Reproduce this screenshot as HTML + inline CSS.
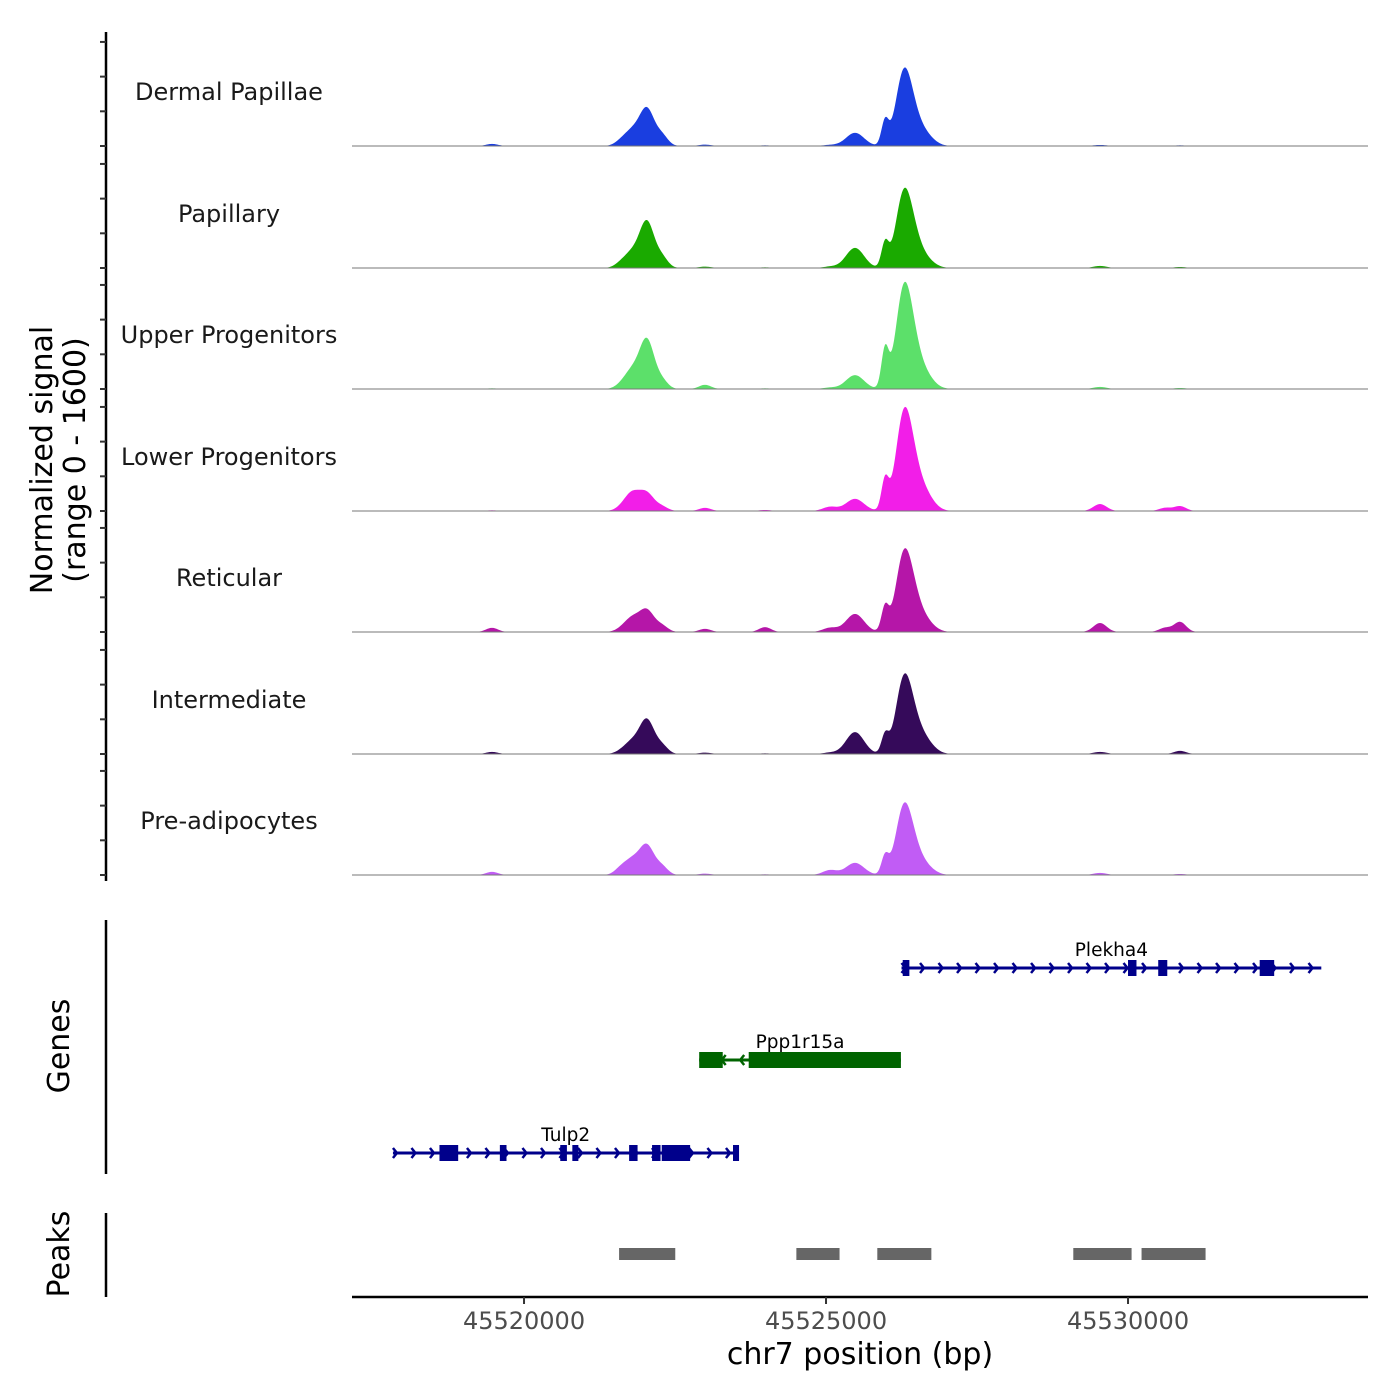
<!DOCTYPE html>
<html><head><meta charset="utf-8"><style>
html,body{margin:0;padding:0;background:#fff}
svg{display:block;font-family:"DejaVu Sans","Liberation Sans",sans-serif}
</style></head><body>
<svg id="chart" width="1400" height="1400" viewBox="0 0 1400 1400">
<g id="tracks"></g>
<g id="genes"></g>
<g id="peaks"></g>
<g id="axes"></g>
<text x="52" y="460" font-size="30" text-anchor="middle" transform="rotate(-90 52 460)">Normalized signal</text>
<text x="85" y="460" font-size="30" text-anchor="middle" transform="rotate(-90 85 460)">(range 0 - 1600)</text>
<text x="69" y="1046" font-size="30" text-anchor="middle" transform="rotate(-90 69 1046)">Genes</text>
<text x="69" y="1254" font-size="30" text-anchor="middle" transform="rotate(-90 69 1254)">Peaks</text>
<text x="860" y="1364" font-size="30" text-anchor="middle">chr7 position (bp)</text>
</svg>
<script>
const trackNames=["Dermal Papillae","Papillary","Upper Progenitors","Lower Progenitors","Reticular","Intermediate","Pre-adipocytes"];
const trackColors=["#1a3ee0","#1aaa00","#5ce06a","#f21ee8","#b516a8","#350a5a","#c15cf5"];
const peakCenters=[45519470,45521589,45521788,45522036,45522284,45522996,45523990,45525066,45525480,45525977,45526275,45526424,45526639,45529536,45530613,45530861];
const peakSigmas=[100,100,130,120,100,100,100,120,150,60,130,140,150,110,100,100];
const sigDermal=[30,45,215,520,145,20,10,15,190,345,900,350,145,15,0,10];
const sigPapillary=[0,45,215,650,145,20,10,20,290,345,900,390,115,30,0,15];
const sigUpper=[10,30,260,690,115,60,10,20,200,550,1200,520,175,30,0,15];
const sigLower=[10,20,260,240,60,45,15,60,175,430,1150,520,215,100,45,70];
const sigReticular=[60,20,200,300,85,45,70,60,260,345,920,430,145,130,60,145];
const sigIntermediate=[30,20,175,480,115,20,10,20,315,260,900,390,175,30,0,45];
const sigPreadip=[45,70,215,410,115,20,10,70,175,260,820,345,115,30,0,15];
const trackSignals=[sigDermal,sigPapillary,sigUpper,sigLower,sigReticular,sigIntermediate,sigPreadip];
const xTicks=[45520000,45525000,45530000];
const yTickVals=[0,500,1000,1500];
const peakStarts=[45521574,45524509,45525849,45529094,45530224];
const peakEnds=[45522504,45525224,45526744,45530059,45531284];
const genes=[
 {name:"Plekha4",strand:1,start:45526250,end:45533200,row:0,color:"#00008b",exons:[[45526270,45526380],[45530000,45530140],[45530500,45530650],[45532180,45532420]]},
 {name:"Ppp1r15a",strand:-1,start:45522900,end:45526240,row:1,color:"#006400",exons:[[45522900,45523290],[45523720,45526240]]},
 {name:"Tulp2",strand:1,start:45517830,end:45523550,row:2,color:"#00008b",exons:[[45518600,45518910],[45519600,45519710],[45520600,45520710],[45520800,45520900],[45521740,45521880],[45522120,45522260],[45522280,45522750],[45523460,45523560]]}
];
const NS="http://www.w3.org/2000/svg";
const X0=352,X1=1368,BP0=45517152,PXBP=0.0604;
const xs=bp=>X0+(bp-BP0)*PXBP;
const ys=(v,base)=>base-v*111/1600;
function mk(tag,attrs,parent){const e=document.createElementNS(NS,tag);for(const k in attrs)e.setAttribute(k,attrs[k]);parent.appendChild(e);return e;}
const T=document.getElementById("tracks");
const bases=[146,268,389,511,632,754,875];
trackNames.forEach((nm,i)=>{
 const base=bases[i],sig=trackSignals[i];
 let d="M"+X0+","+base;
 for(let x=X0;x<=X1;x+=1){
  const bp=BP0+(x-X0)/PXBP;let v=0;
  for(let k=0;k<peakCenters.length;k++){const z=(bp-peakCenters[k])/peakSigmas[k];v+=sig[k]*Math.exp(-0.5*z*z);}
  d+="L"+x+","+ys(v,base).toFixed(2);
 }
 d+="L"+X1+","+base+"Z";
 const p=mk("path",{d:d,fill:trackColors[i]},T);
 
 
 const l=mk("line",{x1:X0,x2:X1,y1:base,y2:base,stroke:"#777","stroke-width":1},T);
 
 
 const t=mk("text",{x:229,y:base-46,"font-size":24,"text-anchor":"middle",fill:"#1a1a1a"},T);
 t.textContent=nm;
 
 
});
const A=document.getElementById("axes");
mk("line",{x1:106,x2:106,y1:32,y2:881,stroke:"#000","stroke-width":2.5},A);
bases.forEach(b=>{yTickVals.forEach(v=>{const y=ys(v,b);const tk=mk("line",{x1:100,x2:106,y1:y,y2:y,stroke:"#333","stroke-width":2},A);
 
 });});
mk("line",{x1:106,x2:106,y1:920,y2:1174,stroke:"#000","stroke-width":2.5},A);
mk("line",{x1:106,x2:106,y1:1213,y2:1297,stroke:"#000","stroke-width":2.5},A);
mk("line",{x1:352,x2:1368,y1:1297,y2:1297,stroke:"#000","stroke-width":2.5},A);
xTicks.forEach(v=>{const x=xs(v);
 mk("line",{x1:x,x2:x,y1:1297,y2:1304,stroke:"#333","stroke-width":2},A);
 const t=mk("text",{x:x,y:1329,"font-size":24,"text-anchor":"middle",fill:"#4d4d4d"},A);t.textContent=v;
 
 });
const G=document.getElementById("genes");
const rowY=[968,1060,1153];
genes.forEach(g=>{
 const y=rowY[g.row],gg=mk("g",{},G);
 
 
 mk("line",{x1:xs(g.start),x2:xs(g.end),y1:y,y2:y,stroke:g.color,"stroke-width":3},gg);
 for(let x=xs(g.start)+4;x<=xs(g.end);x+=18.5){
  const dx=g.strand>0?4:-4;
  mk("polyline",{points:(x-dx)+","+(y-5)+" "+x+","+y+" "+(x-dx)+","+(y+5),fill:"none",stroke:g.color,"stroke-width":2.5},gg);
 }
 g.exons.forEach(e=>mk("rect",{x:xs(e[0]),y:y-8,width:Math.max(6,xs(e[1])-xs(e[0])),height:16,fill:g.color},gg));
 const t=mk("text",{x:xs((g.start+g.end)/2),y:y-12,"font-size":18.5,"text-anchor":"middle",fill:"#000"},gg);
 t.textContent=g.name;
});
const P=document.getElementById("peaks");
peakStarts.forEach((s,i)=>{const r=mk("rect",{x:xs(s),y:1248,width:xs(peakEnds[i])-xs(s),height:12,fill:"#666"},P);
 
 });
</script>
</body></html>
